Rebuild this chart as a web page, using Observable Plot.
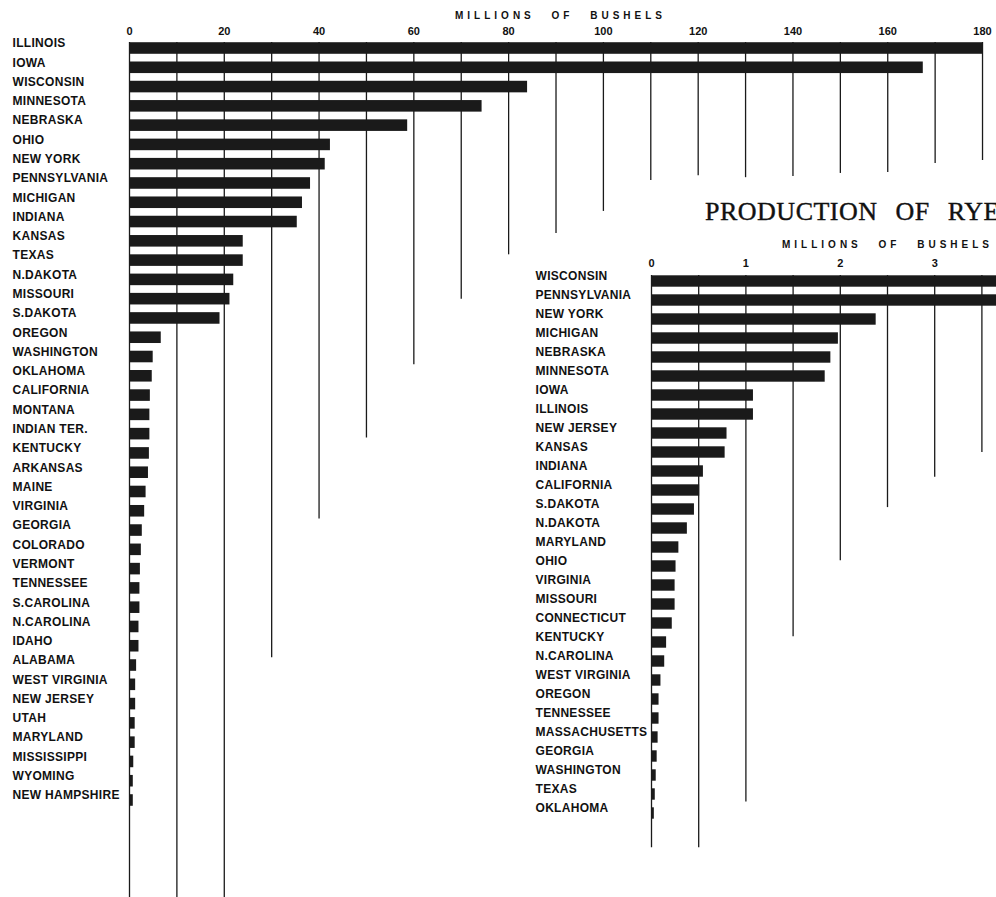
<!DOCTYPE html>
<html><head><meta charset="utf-8">
<script src="https://cdn.jsdelivr.net/npm/d3@7"></script>
<script src="https://cdn.jsdelivr.net/npm/@observablehq/plot@0.6"></script>
<style>
html,body{margin:0;padding:0;background:#fff;overflow:hidden;}
#wrap{position:relative;width:996px;height:897px;overflow:hidden;background:#fff;}
#oats,#rye{position:absolute;top:0;height:897px;}
#oats{left:0;width:1108px;}
#rye{left:520px;width:719px;}
#wrap svg{max-width:none !important;}
#wrap svg text{letter-spacing:0.3px;}
#wrap g[aria-label="x-axis label"] text{font-size:10px;letter-spacing:4px;word-spacing:10px;}
#wrap g[aria-label="x-axis tick label"] text{font-size:11px;letter-spacing:0;}
#title{position:absolute;left:705px;top:199px;font-family:"Liberation Serif","DejaVu Serif",serif;font-size:26px;line-height:1;letter-spacing:0.5px;word-spacing:11px;white-space:nowrap;color:#111;-webkit-text-stroke:0.4px #111;}
</style></head><body>
<div id="wrap"><div id="oats"></div><div id="rye"></div><div id="title">PRODUCTION OF RYE</div></div>
<script>
// ---- Oats (left chart), millions of bushels ----
const oatsStates = ["ILLINOIS","IOWA","WISCONSIN","MINNESOTA","NEBRASKA","OHIO","NEW YORK","PENNSYLVANIA","MICHIGAN","INDIANA","KANSAS","TEXAS","N.DAKOTA","MISSOURI","S.DAKOTA","OREGON","WASHINGTON","OKLAHOMA","CALIFORNIA","MONTANA","INDIAN TER.","KENTUCKY","ARKANSAS","MAINE","VIRGINIA","GEORGIA","COLORADO","VERMONT","TENNESSEE","S.CAROLINA","N.CAROLINA","IDAHO","ALABAMA","WEST VIRGINIA","NEW JERSEY","UTAH","MARYLAND","MISSISSIPPI","WYOMING","NEW HAMPSHIRE"];
const oatsValues = [180,167.5,84,74.4,58.7,42.4,41.3,38.2,36.5,35.4,24,24,22,21.2,19.1,6.7,5.0,4.8,4.4,4.3,4.3,4.2,4.0,3.5,3.2,2.7,2.5,2.3,2.2,2.2,2.0,2.0,1.5,1.3,1.3,1.2,1.2,0.9,0.8,0.8];
const oatsTicks = [0,20,40,60,80,100,120,140,160,180];
const oatsGrid = [0,10,20,30,40,50,60,70,80,90,100,110,120,130,140,150,160,170,180];
// how far down (in rows of states) each grid line is drawn
const oatsGridEnd = [44.5,44.5,44.5,31.6,24.4,20.2,16.4,13.0,10.7,9.6,8.45,6.85,6.6,6.7,6.64,6.48,6.43,5.96,5.81];

// ---- Rye (right chart), millions of bushels ----
const ryeStates = ["WISCONSIN","PENNSYLVANIA","NEW YORK","MICHIGAN","NEBRASKA","MINNESOTA","IOWA","ILLINOIS","NEW JERSEY","KANSAS","INDIANA","CALIFORNIA","S.DAKOTA","N.DAKOTA","MARYLAND","OHIO","VIRGINIA","MISSOURI","CONNECTICUT","KENTUCKY","N.CAROLINA","WEST VIRGINIA","OREGON","TENNESSEE","MASSACHUSETTS","GEORGIA","WASHINGTON","TEXAS","OKLAHOMA"];
const ryeValues = [4.2,3.9,2.38,1.98,1.90,1.84,1.08,1.08,0.80,0.78,0.55,0.51,0.455,0.38,0.29,0.26,0.25,0.25,0.22,0.16,0.14,0.10,0.08,0.08,0.07,0.06,0.05,0.04,0.03];
const ryeTicks = [0,1,2,3,4];
const ryeGrid = [0,0.5,1,1.5,2,2.5,3,3.5];
const ryeGridEnd = [29.8,29.8,27.4,18.7,14.7,11.9,10.3,9.0];

const ink = "#1a1a1a";
const axisLabel = "MILLIONS OF BUSHELS";

function chart(o) {
  const rows = o.states.map((s, i) => ({s, i, v: o.values[i]}));
  const g = o.grid.map((v, i) => ({v, end: o.gridEnd[i]}));
  return Plot.plot({
    width: o.width, height: 897,
    marginLeft: o.marginLeft, marginTop: o.marginTop, marginRight: 0, marginBottom: 0,
    style: {fontFamily: "'Liberation Sans', Arial, sans-serif", fontSize: "12px", fontWeight: "bold", background: "transparent", color: "#111", maxWidth: "none"},
    x: {domain: o.xDomain, range: o.xRange},
    y: {domain: [0, o.states.length - 1], range: o.yRange, axis: null},
    marks: [
      Plot.ruleX(g, {x: "v", y1: -0.31, y2: "end", stroke: ink, strokeWidth: 1.3}),
      Plot.rect(rows, {x1: 0, x2: "v", y1: d => d.i - 0.3, y2: d => d.i + 0.3, fill: ink}),
      Plot.text(rows, {y: "i", text: "s", frameAnchor: "left", textAnchor: "start", dy: -5, fill: "#111"}),
      Plot.axisX({anchor: "top", ticks: o.ticks, tickFormat: d => String(d), tickSize: 0, tickPadding: 4,
        label: axisLabel, labelArrow: "none", labelAnchor: "center", labelOffset: o.labelOffset})
    ]
  });
}

document.getElementById("oats").append(chart({
  states: oatsStates, values: oatsValues, ticks: oatsTicks, grid: oatsGrid, gridEnd: oatsGridEnd,
  width: 1108, marginLeft: 12, marginTop: 38, labelOffset: 27,
  xDomain: [0, 182], xRange: [129, 991.5], yRange: [48, 800]
}));
document.getElementById("rye").append(chart({
  states: ryeStates, values: ryeValues, ticks: ryeTicks, grid: ryeGrid, gridEnd: ryeGridEnd,
  width: 719, marginLeft: 15, marginTop: 270, labelOffset: 30,
  xDomain: [0, 5], xRange: [131, 603], yRange: [281, 813]
}));
</script>
</body></html>
